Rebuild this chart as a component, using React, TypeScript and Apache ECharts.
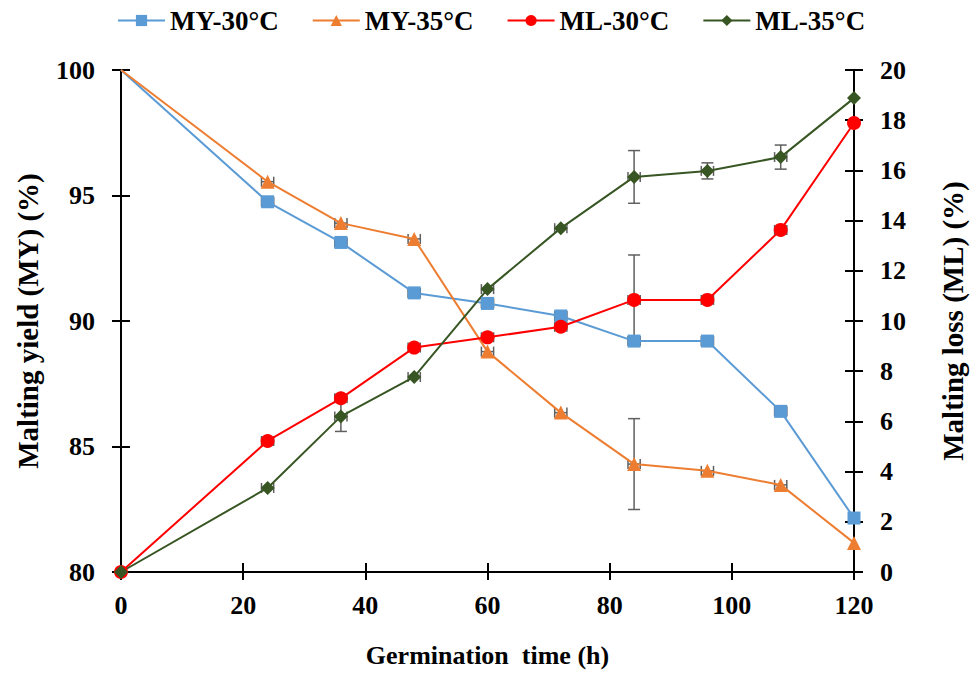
import React, { useEffect, useRef } from "react";
import * as echarts from "echarts";

// Germination time (h)
const hours = [0, 24, 36, 48, 60, 72, 84, 96, 108, 120];

// Malting yield (%), left axis
const my30 = [100, 94.75, 93.13, 91.12, 90.7, 90.2, 89.2, 89.2, 86.4, 82.15];
const my35 = [100, 95.55, 93.9, 93.27, 88.78, 86.35, 84.3, 84.03, 83.47, 81.16];

// Malting loss (%), right axis
const ml30 = [0, 5.22, 6.92, 8.94, 9.35, 9.77, 10.84, 10.84, 13.63, 17.89];
const ml35 = [0, 3.35, 6.2, 7.77, 11.27, 13.7, 15.74, 15.98, 16.53, 18.88];

// Standard deviations (vertical error bars)
const my30Err = [0, 0, 0, 0, 0, 0, 0, 0, 0, 0];
const my35Err = [0, 0, 0, 0, 0, 0, 1.81, 0, 0, 0];
const ml30Err = [0, 0, 0, 0, 0, 0, 1.79, 0, 0, 0];
const ml35Err = [0, 0, 0.6, 0, 0, 0, 1.05, 0.32, 0.48, 0];

// Horizontal error (h) on the sampling time
const timeErr = [0, 1, 1, 1, 1, 1, 1, 1, 1, 0];

// Axis ticks
const xTicks = { min: 0, max: 120, interval: 20 };
const myTicks = { min: 80, max: 100, interval: 5 };
const mlTicks = { min: 0, max: 20, interval: 2 };

const FONT = "'Liberation Serif', 'Times New Roman', serif";
const ERR_COLOR = "#5f5f5f";

// yield curves start at 100 % without a marker
const points = (ys: number[], markStart: boolean) =>
  hours.map((h, i) =>
    i === 0 && !markStart ? { value: [h, ys[i]], symbol: "none" } : [h, ys[i]]
  );
const errPoints = (ys: number[], es: number[]) =>
  hours.map((h, i) => [h, ys[i], es[i], timeErr[i]]);

const renderErr = (params: any, api: any) => {
  const x = api.value(0);
  const y = api.value(1);
  const e = api.value(2);
  const ex = api.value(3);
  const style = { stroke: ERR_COLOR, lineWidth: 1.5 };
  const children: any[] = [];
  if (e > 0) {
    const t = api.coord([x, y + e]);
    const b = api.coord([x, y - e]);
    children.push(
      { type: "line", shape: { x1: t[0], y1: t[1], x2: b[0], y2: b[1] }, style },
      { type: "line", shape: { x1: t[0] - 6, y1: t[1], x2: t[0] + 6, y2: t[1] }, style },
      { type: "line", shape: { x1: b[0] - 6, y1: b[1], x2: b[0] + 6, y2: b[1] }, style }
    );
  }
  if (ex > 0) {
    const l = api.coord([x - ex, y]);
    const r = api.coord([x + ex, y]);
    children.push(
      { type: "line", shape: { x1: l[0], y1: l[1], x2: r[0], y2: r[1] }, style },
      { type: "line", shape: { x1: l[0], y1: l[1] - 5, x2: l[0], y2: l[1] + 5 }, style },
      { type: "line", shape: { x1: r[0], y1: r[1] - 5, x2: r[0], y2: r[1] + 5 }, style }
    );
  }
  return { type: "group", children };
};

const errSeries = (ys: number[], es: number[], yAxisIndex: number) => ({
  type: "custom",
  yAxisIndex,
  z: 1,
  silent: true,
  renderItem: renderErr,
  data: errPoints(ys, es),
});

const lineSeries = (
  name: string,
  ys: number[],
  color: string,
  symbol: string,
  symbolSize: number,
  yAxisIndex: number,
  markStart: boolean
) => ({
  name,
  type: "line",
  yAxisIndex,
  z: 3,
  data: points(ys, markStart),
  symbol,
  symbolSize,
  showSymbol: true,
  lineStyle: { color, width: 2 },
  itemStyle: { color },
});

const labelStyle = {
  fontFamily: FONT,
  fontWeight: "bold" as const,
  fontSize: 26,
  color: "#000",
};

const yBase = (pos: "left" | "right", ticks: any, inside: boolean, show: boolean) => ({
  type: "value",
  position: pos,
  ...ticks,
  axisLine: { show: true, onZero: false, lineStyle: { color: "#000", width: 2 } },
  axisTick: { show: true, inside, length: 9, lineStyle: { color: "#000", width: 2 } },
  axisLabel: show ? { ...labelStyle, margin: 26 } : { show: false },
  splitLine: { show: false },
});

export default function App() {
  const ref = useRef<HTMLDivElement>(null);

  useEffect(() => {
    if (!ref.current) return;
    const chart = echarts.init(ref.current, undefined, { renderer: "svg" });
    chart.setOption({
      animation: false,
      backgroundColor: "#fff",
      textStyle: { fontFamily: FONT },
      legend: {
        top: 2,
        left: 112,
        itemWidth: 47,
        itemHeight: 14,
        itemGap: 33,
        textStyle: { ...labelStyle, fontSize: 27 },
        data: ["MY-30°C", "MY-35°C", "ML-30°C", "ML-35°C"],
      },
      grid: { left: 121, right: 118, top: 70, bottom: 101 },
      xAxis: [
        {
          type: "value",
          ...xTicks,
          name: "Germination\u00a0 time (h)",
          nameLocation: "middle",
          nameGap: 70,
          nameTextStyle: { ...labelStyle, fontSize: 26 },
          axisLine: { show: true, onZero: false, lineStyle: { color: "#000", width: 2 } },
          axisTick: { show: true, length: 8, lineStyle: { color: "#000", width: 2 } },
          axisLabel: { ...labelStyle, margin: 20 },
          splitLine: { show: false },
        },
        {
          type: "value",
          position: "bottom",
          ...xTicks,
          axisLine: { show: false },
          axisTick: { show: true, inside: true, length: 9, lineStyle: { color: "#000", width: 2 } },
          axisLabel: { show: false },
          splitLine: { show: false },
        },
      ],
      yAxis: [
        {
          ...yBase("left", myTicks, false, true),
          name: "Malting yield (MY) (%)",
          nameLocation: "middle",
          nameRotate: 90,
          nameGap: 79,
          nameTextStyle: { ...labelStyle, fontSize: 29 },
        },
        {
          ...yBase("right", mlTicks, false, true),
          name: "Malting loss (ML) (%)",
          nameLocation: "middle",
          nameRotate: 90,
          nameGap: 84,
          nameTextStyle: { ...labelStyle, fontSize: 29 },
        },
        yBase("left", myTicks, true, false),
        yBase("right", mlTicks, true, false),
      ],
      series: [
        errSeries(my30, my30Err, 0),
        errSeries(my35, my35Err, 0),
        errSeries(ml30, ml30Err, 1),
        errSeries(ml35, ml35Err, 1),
        lineSeries("MY-30°C", my30, "#5B9BD5", "rect", 13, 0, false),
        lineSeries("MY-35°C", my35, "#ED7D31", "triangle", 14, 0, false),
        lineSeries("ML-30°C", ml30, "#FF0000", "circle", 14, 1, true),
        lineSeries("ML-35°C", ml35, "#375623", "diamond", 14, 1, true),
      ],
    });
    return () => chart.dispose();
  }, []);

  return (
    <div
      ref={ref}
      style={{ position: "absolute", left: 0, top: 0, width: 975, height: 673 }}
    />
  );
}
